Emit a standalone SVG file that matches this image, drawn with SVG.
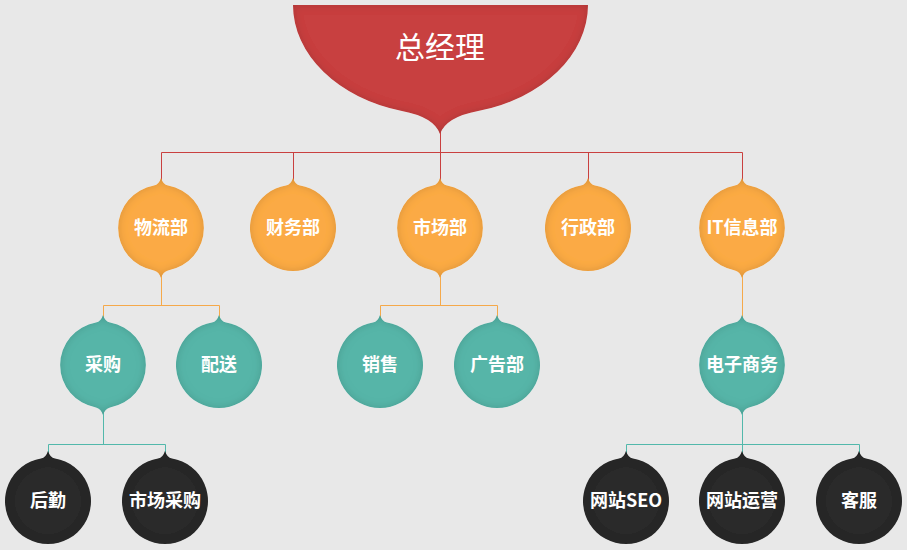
<svg xmlns="http://www.w3.org/2000/svg" width="907" height="550" viewBox="0 0 907 550">
<style>
.lbl{font-family:"Noto Sans CJK SC","Liberation Sans",sans-serif;font-weight:700;font-size:18px;fill:#fff;text-anchor:middle}
.top{font-family:"Noto Sans CJK SC","Liberation Sans",sans-serif;font-weight:400;font-size:30px;fill:#fff;text-anchor:middle}
.or{fill:#fbaa45}
.te{fill:#56b5a8}
.bk{fill:#2c2c2c}
.lr{stroke:#c9403f;stroke-width:1;fill:none}
.lo{stroke:#f5a94a;stroke-width:1;fill:none}
.lt{stroke:#52b8ab;stroke-width:1;fill:none}
</style>
<defs>
<filter id="inner" x="-10%" y="-10%" width="120%" height="120%">
<feGaussianBlur in="SourceAlpha" stdDeviation="4" result="b"/>
<feComposite in="SourceAlpha" in2="b" operator="arithmetic" k2="1" k3="-1" result="edge"/>
<feFlood flood-color="#000" flood-opacity="0.3"/>
<feComposite in2="edge" operator="in" result="sh"/>
<feMerge><feMergeNode in="SourceGraphic"/><feMergeNode in="sh"/></feMerge>
</filter>
<path id="b2" d="M -7,-42.4 Q -2,-43.5 0,-50 Q 2,-43.5 7,-42.4 A 43 43 0 0 1 7,42.4 Q 2,43.5 0,50 Q -2,43.5 -7,42.4 A 43 43 0 0 1 -7,-42.4 Z"/>
<path id="b1" d="M -7,-42.4 Q -2,-43.5 0,-50 Q 2,-43.5 7,-42.4 A 43 43 0 1 1 -7,-42.4 Z"/>
</defs>
<rect width="907" height="550" fill="#e8e8e8"/>
<g id="connectors">
<path class="lr" d="M440.5,130 V152.5 M161.5,152.5 H742.5 M161.5,152.5 V182 M293.5,152.5 V182 M440.5,152.5 V182 M588.5,152.5 V182 M742.5,152.5 V182"/>
<path class="lo" d="M161.5,274 V305.5 M103.5,305.5 H219.5 M103.5,305.5 V318 M219.5,305.5 V318"/>
<path class="lo" d="M440.5,274 V305.5 M380.5,305.5 H497.5 M380.5,305.5 V318 M497.5,305.5 V318"/>
<path class="lo" d="M742.5,274 V318"/>
<path class="lt" d="M103.5,411 V444.5 M48.5,444.5 H165.5 M48.5,444.5 V454 M165.5,444.5 V454"/>
<path class="lt" d="M742.5,411 V444.5 M626.5,444.5 H859.5 M626.5,444.5 V454 M742.5,444.5 V454 M859.5,444.5 V454"/>
</g>
<g id="n-gm">
<path d="M293,5 L588,5 A147 110 0 0 1 478,111 Q 446,117 440,134 Q 434,117 402,111 A147 110 0 0 1 293,5 Z" fill="#c84141" filter="url(#inner)"/>
<text class="top" x="440" y="58">总经理</text>
</g>
<g id="n-wl"><use href="#b2" x="161" y="228" class="or" filter="url(#inner)"/><text class="lbl" x="161" y="234">物流部</text></g>
<g id="n-cw"><use href="#b1" x="293" y="228" class="or" filter="url(#inner)"/><text class="lbl" x="293" y="234">财务部</text></g>
<g id="n-sc"><use href="#b2" x="440" y="228" class="or" filter="url(#inner)"/><text class="lbl" x="440" y="234">市场部</text></g>
<g id="n-xz"><use href="#b1" x="588" y="228" class="or" filter="url(#inner)"/><text class="lbl" x="588" y="234">行政部</text></g>
<g id="n-it"><use href="#b2" x="742" y="228" class="or" filter="url(#inner)"/><text class="lbl" x="742" y="234">IT信息部</text></g>
<g id="n-cg"><use href="#b2" x="103" y="365" class="te" filter="url(#inner)"/><text class="lbl" x="103" y="371">采购</text></g>
<g id="n-ps"><use href="#b1" x="219" y="365" class="te" filter="url(#inner)"/><text class="lbl" x="219" y="371">配送</text></g>
<g id="n-xs"><use href="#b1" x="380" y="365" class="te" filter="url(#inner)"/><text class="lbl" x="380" y="371">销售</text></g>
<g id="n-gg"><use href="#b1" x="497" y="365" class="te" filter="url(#inner)"/><text class="lbl" x="497" y="371">广告部</text></g>
<g id="n-ds"><use href="#b2" x="742" y="365" class="te" filter="url(#inner)"/><text class="lbl" x="742" y="371">电子商务</text></g>
<g id="n-hq"><use href="#b1" x="48" y="501" class="bk" filter="url(#inner)"/><text class="lbl" x="48" y="507">后勤</text></g>
<g id="n-sccg"><use href="#b1" x="165" y="501" class="bk" filter="url(#inner)"/><text class="lbl" x="165" y="507">市场采购</text></g>
<g id="n-seo"><use href="#b1" x="626" y="501" class="bk" filter="url(#inner)"/><text class="lbl" x="626" y="507">网站SEO</text></g>
<g id="n-yy"><use href="#b1" x="742" y="501" class="bk" filter="url(#inner)"/><text class="lbl" x="742" y="507">网站运营</text></g>
<g id="n-kf"><use href="#b1" x="859" y="501" class="bk" filter="url(#inner)"/><text class="lbl" x="859" y="507">客服</text></g>
</svg>
